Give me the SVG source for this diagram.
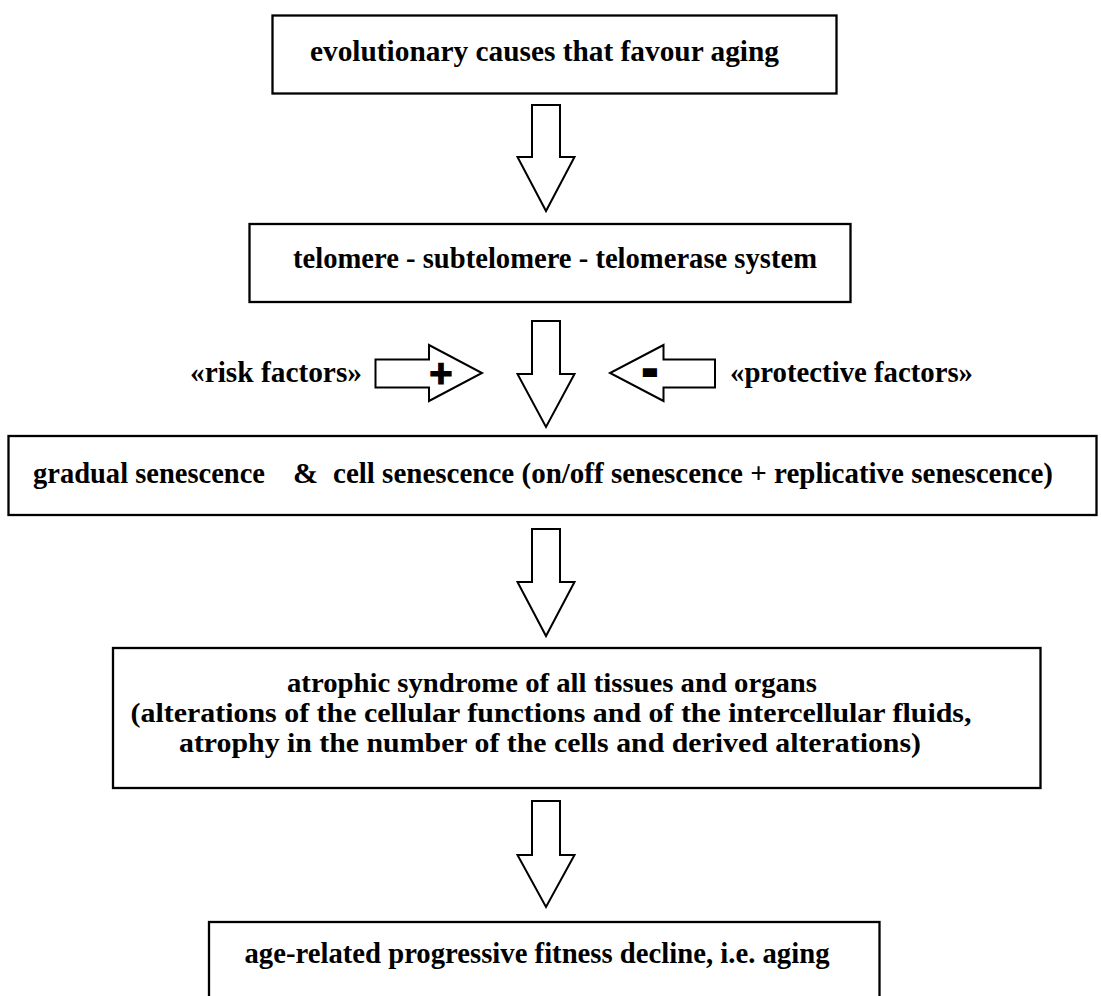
<svg xmlns="http://www.w3.org/2000/svg" width="1101" height="996" viewBox="0 0 1101 996">
<style>
.box{fill:#fff;stroke:#000;stroke-width:2.3}
.arr{fill:#fff;stroke:#000;stroke-width:2;stroke-linejoin:miter}
.t{font-family:"Liberation Serif","Times New Roman",serif;font-weight:bold;font-size:30px;fill:#000}
.t4{font-size:27px}
.sym{font-family:"Liberation Sans",Arial,sans-serif;font-weight:bold;font-size:40px;fill:#000;stroke:#000}
</style>
<rect width="1101" height="996" fill="#fff"/>
<g id="connectors">
<polygon class="arr" points="532,105 560,105 560,157 574.5,157 546,211 517.5,157 532,157"/>
<polygon class="arr" points="532,321 560,321 560,374 574.5,374 546,427 517.5,374 532,374"/>
<polygon class="arr" points="532,529 560,529 560,582 574.5,582 546,636 517.5,582 532,582"/>
<polygon class="arr" points="532,801 560,801 560,855 574.5,855 546,907 517.5,855 532,855"/>
<g id="risk">
<polygon class="arr" points="375.5,359.5 429,359.5 429,345 482,373 429,401 429,387.5 375.5,387.5"/>
<text class="sym" x="441" y="387" text-anchor="middle" stroke-width="1.2">+</text>
</g>
<g id="protective">
<polygon class="arr" points="715,359.5 663.5,359.5 663.5,345 610,373 663.5,401 663.5,387.5 715,387.5"/>
<text class="sym" x="650" y="383" text-anchor="middle" stroke-width="4">-</text>
</g>
</g>
<g id="n1">
<rect class="box" x="272.5" y="15.5" width="564" height="78"/>
<text class="t" x="310" y="61" textLength="469" lengthAdjust="spacingAndGlyphs">evolutionary causes that favour aging</text>
</g>
<g id="n2">
<rect class="box" x="249.5" y="224" width="601" height="78"/>
<text class="t" x="293" y="268" textLength="524" lengthAdjust="spacingAndGlyphs">telomere - subtelomere - telomerase system</text>
</g>
<g id="risk-label">
<text class="t" x="190" y="382" textLength="172" lengthAdjust="spacingAndGlyphs">«risk factors»</text>
</g>
<g id="protective-label">
<text class="t" x="730" y="382" textLength="243" lengthAdjust="spacingAndGlyphs">«protective factors»</text>
</g>
<g id="n3">
<rect class="box" x="8.5" y="436" width="1088" height="79"/>
<text class="t" x="33" y="483" textLength="232" lengthAdjust="spacingAndGlyphs">gradual senescence</text>
<text class="t" x="293" y="483">&amp;</text>
<text class="t" x="333" y="483" textLength="720" lengthAdjust="spacingAndGlyphs">cell senescence (on/off senescence + replicative senescence)</text>
</g>
<g id="n4">
<rect class="box" x="113" y="648" width="927.5" height="140"/>
<text class="t t4" x="552" y="692" text-anchor="middle" textLength="530" lengthAdjust="spacingAndGlyphs">atrophic syndrome of all tissues and organs</text>
<text class="t t4" x="551" y="722" text-anchor="middle" textLength="841" lengthAdjust="spacingAndGlyphs">(alterations of the cellular functions and of the intercellular fluids,</text>
<text class="t t4" x="550" y="752" text-anchor="middle" textLength="742" lengthAdjust="spacingAndGlyphs">atrophy in the number of the cells and derived alterations)</text>
</g>
<g id="n5">
<rect class="box" x="209" y="922" width="670.5" height="80"/>
<text class="t" x="244.5" y="963" textLength="585" lengthAdjust="spacingAndGlyphs">age-related progressive fitness decline, i.e. aging</text>
</g>
</svg>
